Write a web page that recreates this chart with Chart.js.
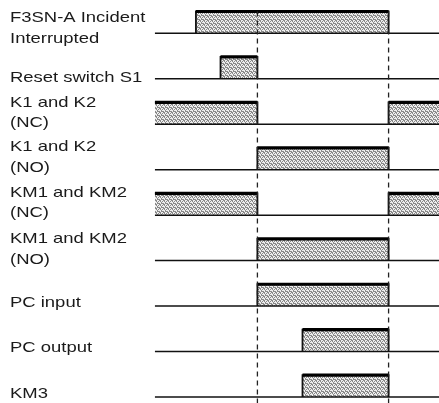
<!DOCTYPE html>
<html>
<head>
<meta charset="utf-8">
<script src="https://cdn.jsdelivr.net/npm/chart.js@4.4.0/dist/chart.umd.min.js"></script>
<style>
  html, body { margin: 0; padding: 0; background: #fff; }
  #wrap { width: 439px; height: 403px; position: relative; }
</style>
</head>
<body>
<div id="wrap"><canvas id="timing"></canvas></div>
<script>
// signal names, top to bottom
const signalNames = [
  ['F3SN-A Incident', 'Interrupted'],
  ['Reset switch S1'],
  ['K1 and K2', '(NC)'],
  ['K1 and K2', '(NO)'],
  ['KM1 and KM2', '(NC)'],
  ['KM1 and KM2', '(NO)'],
  ['PC input'],
  ['PC output'],
  ['KM3']
];

// time axis (arbitrary units)
const tStart = 0;
const tEnd = 6.93;
const cursorTimes = [2.5, 5.7];

// ON intervals for each signal
const f3snOn = [[1.0, 5.7]];
const resetOn = [[1.6, 2.5]];
const k12NcOn = [[0, 2.5], [5.7, 6.93]];
const k12NoOn = [[2.5, 5.7]];
const km12NcOn = [[0, 2.5], [5.7, 6.93]];
const km12NoOn = [[2.5, 5.7]];
const pcInOn = [[2.5, 5.7]];
const pcOutOn = [[3.6, 5.7]];
const km3On = [[3.6, 5.7]];

const onIntervals = [f3snOn, resetOn, k12NcOn, k12NoOn, km12NcOn, km12NoOn, pcInOn, pcOutOn, km3On];

const rows = signalNames.length;
const pulseHeight = 0.48;

// stipple fill like the printed diagram
const tile = document.createElement('canvas');
tile.width = 4; tile.height = 4;
const tctx = tile.getContext('2d');
tctx.fillStyle = '#eeeeee';
tctx.fillRect(0, 0, 4, 4);
tctx.fillStyle = '#8a8a8a';
[[0, 0], [2, 1], [1, 2], [3, 3], [2, 3], [0, 1], [3, 0], [1, 3]].forEach(([px, py]) => tctx.fillRect(px, py, 1, 1));
const stipple = tctx.createPattern(tile, 'repeat');

const datasets = [];

// dashed cursors (first = drawn on top)
cursorTimes.forEach(t => {
  datasets.push({
    data: [{x: t, y: rows - 1 + pulseHeight}, {x: t, y: -1}],
    borderColor: '#222', borderWidth: 1.3, borderDash: [5, 4],
    pointRadius: 0, fill: false
  });
});

const baselines = [], tops = [], edges = [];
onIntervals.forEach((list, i) => {
  const base = rows - 1 - i;
  const high = base + pulseHeight;
  const top = [], edge = [];
  list.forEach(([s, e], k) => {
    if (k > 0) { top.push({x: s, y: null}); edge.push({x: s, y: null}); }
    top.push({x: s, y: high}, {x: e, y: high});
    if (s > tStart) edge.push({x: s, y: base});
    edge.push({x: s, y: high}, {x: e, y: high});
    if (e < tEnd) edge.push({x: e, y: base});
  });
  baselines.push({
    data: [{x: tStart, y: base}, {x: tEnd, y: base}],
    borderColor: '#111', borderWidth: 1.5, pointRadius: 0, fill: false
  });
  tops.push({
    data: top, borderColor: '#000', borderWidth: 3.2, pointRadius: 0,
    fill: false, spanGaps: false, borderCapStyle: 'butt'
  });
  edges.push({
    data: edge, borderColor: '#111', borderWidth: 1.8, pointRadius: 0,
    borderJoinStyle: 'miter',
    fill: {value: base}, backgroundColor: stipple, spanGaps: false
  });
});
datasets.push(...baselines, ...tops, ...edges);

const labelPlugin = {
  id: 'signalLabels',
  afterDraw(chart, args, opts) {
    const ctx = chart.ctx;
    const y = chart.scales.y;
    ctx.save();
    ctx.font = opts.font;
    ctx.fillStyle = opts.color;
    ctx.textBaseline = 'alphabetic';
    signalNames.forEach((lines, i) => {
      const yb = y.getPixelForValue(rows - 1 - i) + opts.dy[i];
      lines.forEach((txt, j) => {
        const yy = yb - (lines.length - 1 - j) * opts.lineHeight;
        ctx.save();
        ctx.translate(opts.x, yy);
        ctx.scale(opts.stretch, 1);
        ctx.fillText(txt, 0, 0);
        ctx.restore();
      });
    });
    ctx.restore();
  }
};

new Chart(document.getElementById('timing'), {
  type: 'line',
  data: { datasets },
  plugins: [labelPlugin],
  options: {
    responsive: true,
    maintainAspectRatio: false,
    animation: false,
    layout: { padding: 0 },
    plugins: {
      legend: { display: false },
      tooltip: { enabled: false },
      signalLabels: {
        font: '15px "Liberation Sans", Arial, sans-serif',
        color: '#1a1a1a',
        x: 10,
        stretch: 1.23,
        lineHeight: 20.4,
        dy: [9.4, 3, 2.7, 2, 2, 3, 0.5, 0.5, 1]
      }
    },
    scales: {
      x: { type: 'linear', display: false, min: -3.78, max: 6.93 },
      y: { type: 'linear', display: false, min: -0.132, max: 8.733 }
    },
    elements: { point: { radius: 0 }, line: { tension: 0 } }
  }
});
</script>
</body>
</html>
